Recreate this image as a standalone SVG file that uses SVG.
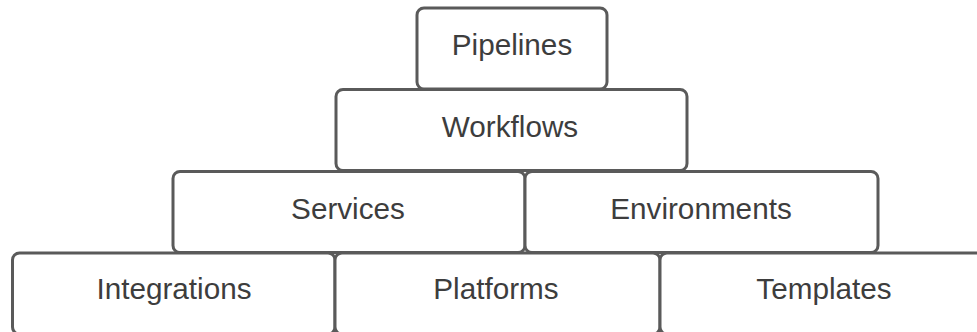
<svg xmlns="http://www.w3.org/2000/svg" width="977" height="332" viewBox="0 0 977 332">
  <style>
    .box { fill: #ffffff; stroke: #5a5a5a; stroke-width: 3; }
    .lbl { font-family: "Liberation Sans", Arial, sans-serif; font-size: 29.7px; fill: #3d3d3d; text-anchor: middle; }
  </style>
  <rect width="977" height="332" fill="#ffffff"/>
  <g id="pipelines">
    <rect class="box" x="417" y="8" width="190" height="81" rx="7"/>
    <text class="lbl" x="512" y="55">Pipelines</text>
  </g>
  <g id="workflows">
    <rect class="box" x="336" y="89.5" width="351" height="81" rx="7"/>
    <text class="lbl" x="510" y="137">Workflows</text>
  </g>
  <g id="services">
    <rect class="box" x="173" y="171.5" width="352" height="81" rx="7"/>
    <text class="lbl" x="348" y="219">Services</text>
  </g>
  <g id="environments">
    <rect class="box" x="525" y="171.5" width="353" height="81" rx="7"/>
    <text class="lbl" x="701" y="219">Environments</text>
  </g>
  <g id="integrations">
    <rect class="box" x="12.5" y="253" width="322.5" height="81" rx="7"/>
    <text class="lbl" x="174" y="299">Integrations</text>
  </g>
  <g id="platforms">
    <rect class="box" x="335" y="253" width="325" height="81" rx="7"/>
    <text class="lbl" x="496" y="299">Platforms</text>
  </g>
  <g id="templates">
    <rect class="box" x="660" y="253" width="328" height="81" rx="7"/>
    <text class="lbl" x="824" y="299">Templates</text>
  </g>
  <g id="connectors"/>
</svg>
